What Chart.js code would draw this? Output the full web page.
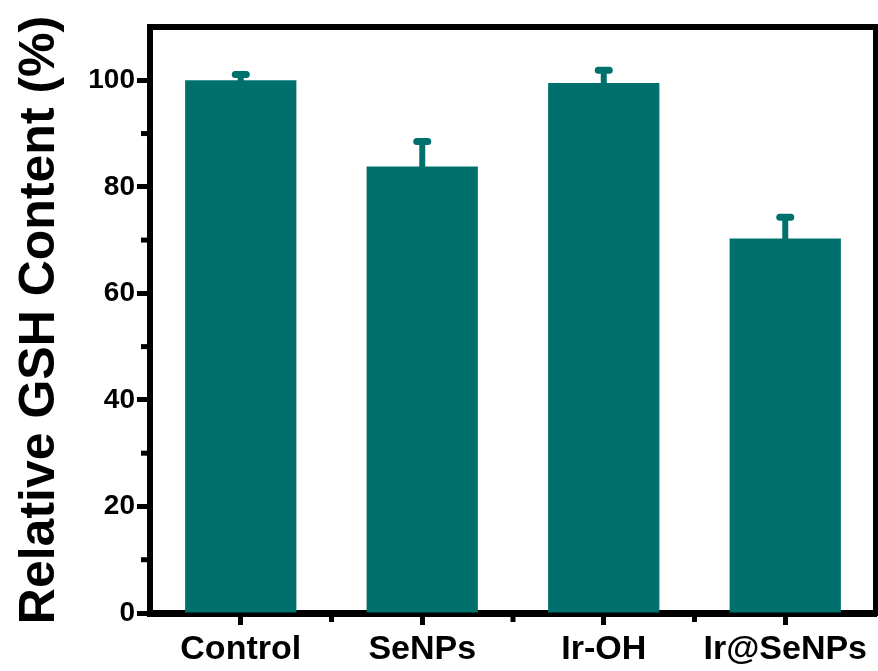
<!DOCTYPE html>
<html><head><meta charset="utf-8">
<script src="https://cdn.jsdelivr.net/npm/chart.js@4/dist/chart.umd.min.js"></script>
<style>html,body{margin:0;padding:0;background:#fff}canvas{display:block}</style>
</head><body>
<canvas id="c" width="878" height="671"></canvas>
<script>
const categories = ['Control', 'SeNPs', 'Ir-OH', 'Ir@SeNPs'];
const gshValues = [100, 83.8, 99.5, 70.3];
const gshErrors = [1.1, 4.7, 2.4, 4.0];
const yMajorTicks = [0, 20, 40, 60, 80, 100];
const yMinorTicks = [10, 30, 50, 70, 90];
const yTitle = 'Relative GSH Content (%)';

const BAR_COLOR = '#00706C';
const FONT = '"Liberation Sans", Arial, sans-serif';

const errorBarPlugin = {
  id: 'errorBars',
  afterDatasetsDraw(chart) {
    const ctx = chart.ctx;
    const y = chart.scales.y;
    const meta = chart.getDatasetMeta(0);
    ctx.save();
    ctx.strokeStyle = BAR_COLOR;
    meta.data.forEach((bar, i) => {
      const top = y.getPixelForValue(gshValues[i] + gshErrors[i]);
      ctx.lineCap = 'butt';
      ctx.lineWidth = 6;
      ctx.beginPath();
      ctx.moveTo(bar.x, bar.y + 1);
      ctx.lineTo(bar.x, top);
      ctx.stroke();
      ctx.lineCap = 'round';
      ctx.lineWidth = 7;
      ctx.beginPath();
      ctx.moveTo(bar.x - 5.5, top);
      ctx.lineTo(bar.x + 5.5, top);
      ctx.stroke();
    });
    ctx.restore();
  }
};

const framePlugin = {
  id: 'frameAndMinor',
  afterDraw(chart) {
    const ctx = chart.ctx;
    const a = chart.chartArea;
    const x = chart.scales.x;
    const y = chart.scales.y;
    ctx.save();
    ctx.strokeStyle = '#000';
    ctx.lineWidth = 6;
    ctx.beginPath();
    ctx.moveTo(a.left - 3, a.top);
    ctx.lineTo(a.right, a.top);
    ctx.lineTo(a.right, a.bottom + 3);
    ctx.stroke();
    ctx.lineWidth = 5;
    yMinorTicks.forEach(v => {
      const py = y.getPixelForValue(v);
      ctx.beginPath();
      ctx.moveTo(a.left - 9, py);
      ctx.lineTo(a.left, py);
      ctx.stroke();
    });
    for (let i = 0; i < categories.length - 1; i++) {
      const px = (x.getPixelForValue(i) + x.getPixelForValue(i + 1)) / 2;
      ctx.beginPath();
      ctx.moveTo(px, a.bottom);
      ctx.lineTo(px, a.bottom + 9);
      ctx.stroke();
    }
    ctx.restore();
  }
};

new Chart(document.getElementById('c'), {
  type: 'bar',
  data: {
    labels: categories,
    datasets: [{
      data: gshValues,
      backgroundColor: BAR_COLOR,
      borderWidth: 0,
      barPercentage: 0.613,
      categoryPercentage: 1.0
    }]
  },
  options: {
    responsive: false,
    animation: false,
    devicePixelRatio: 1,
    layout: { padding: { top: 27, right: 2, bottom: 0, left: 0 } },
    plugins: { legend: { display: false }, tooltip: { enabled: false } },
    scales: {
      x: {
        offset: true,
        grid: { display: true, offset: false, drawOnChartArea: false, tickLength: 12, tickWidth: 5, tickColor: '#000' },
        border: { display: true, color: '#000', width: 7 },
        ticks: { color: '#000', font: { family: FONT, size: 34, weight: 'bold' }, padding: 4, maxRotation: 0, autoSkip: false },
        afterFit(scale) { scale.height = 58; }
      },
      y: {
        min: 0,
        max: 110,
        afterBuildTicks(scale) { scale.ticks = yMajorTicks.map(v => ({ value: v })); },
        grid: { display: true, drawOnChartArea: false, tickLength: 13, tickWidth: 5, tickColor: '#000' },
        border: { display: true, color: '#000', width: 6 },
        ticks: { color: '#000', font: { family: FONT, size: 28, weight: 'bold' }, padding: 2 },
        title: { display: true, text: yTitle, color: '#000', font: { family: FONT, size: 50, weight: 'bold' }, padding: { top: 10, bottom: 0 } },
        afterFit(scale) { scale.width = 150; }
      }
    }
  },
  plugins: [errorBarPlugin, framePlugin]
});
</script>
</body></html>
